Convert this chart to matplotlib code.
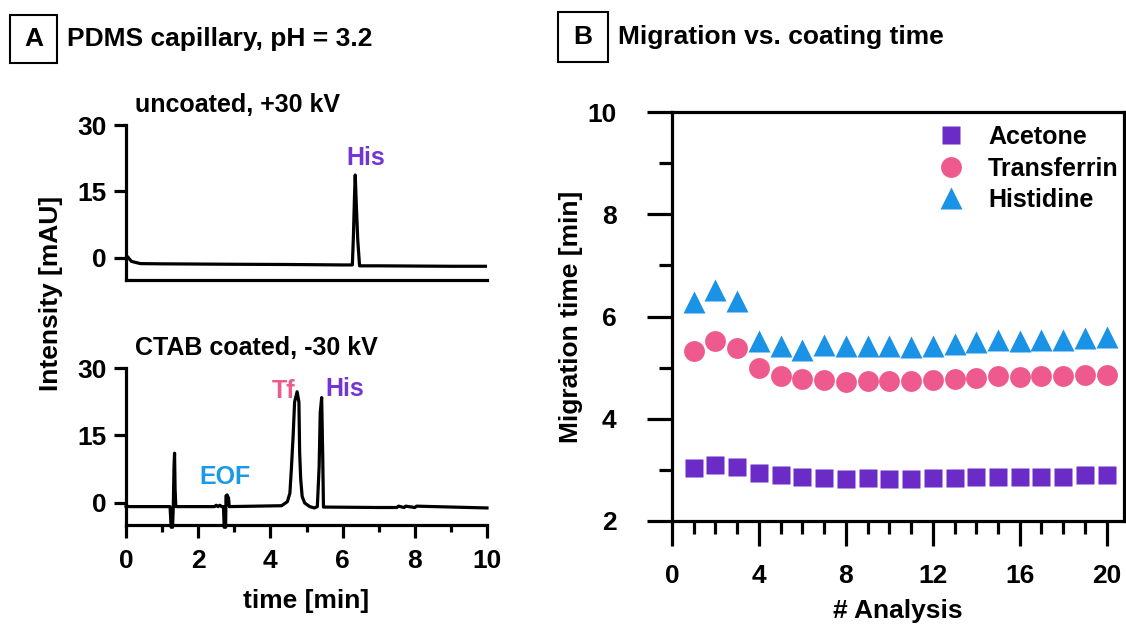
import matplotlib
matplotlib.use("Agg")
from matplotlib import pyplot as plt
from matplotlib.patches import Rectangle
from matplotlib.ticker import MultipleLocator

plt.rcParams['font.family'] = ['Liberation Sans', 'DejaVu Sans']
plt.rcParams['font.weight'] = 'bold'
plt.rcParams['axes.labelweight'] = 'bold'

# ---- panel A: electropherograms (time [min], intensity [mAU]) ----
uncoated_t = [0.0, 0.05, 0.15, 0.4, 1.0, 3.0, 4.5, 6.0, 6.27, 6.30, 6.33, 6.35,
              6.38, 6.42, 6.47, 7.0, 8.0, 9.0, 10.0]
uncoated_i = [0.5, 0.2, -0.8, -1.3, -1.35, -1.45, -1.5, -1.6, -1.6, 5.0, 14.0, 18.7,
              12.0, 4.0, -1.8, -1.8, -1.85, -1.9, -1.9]

ctab_t = [0.0, 0.1, 1.22, 1.25, 1.29, 1.31, 1.33, 1.345, 1.36, 1.38,
          2.45, 2.5, 2.55, 2.6, 2.65, 2.70, 2.72, 2.76, 2.77, 2.80, 2.84, 2.86,
          4.31, 4.47, 4.54, 4.58, 4.63, 4.67, 4.74, 4.79, 4.81, 4.84, 4.88, 4.95, 5.09,
          5.22, 5.30, 5.35, 5.38, 5.42, 5.45, 5.47,
          7.0, 7.5, 7.55, 7.7, 7.75, 8.0, 8.05, 10.0]
ctab_i = [-0.8, -0.9, -0.9, -5.5, -5.5, -0.9, 8.0, 11.0, 3.0, -0.9,
          -0.9, -0.6, -0.9, -0.6, -0.9, -0.9, -5.5, -5.5, 1.5, 1.7, 1.0, -0.9,
          -0.7, 0.2, 2.1, 7.4, 14.9, 22.4, 24.7, 22.4, 11.2, 5.1, 1.35, -0.1, -0.9,
          -1.2, -0.9, 8.0, 20.0, 23.4, 10.0, -1.0,
          -1.1, -1.1, -0.8, -1.1, -0.8, -1.1, -0.8, -1.2]

# ---- panel B: migration times ----
analysis = list(range(1, 21))
acetone = [3.04, 3.10, 3.06, 2.94, 2.89, 2.86, 2.85, 2.82, 2.85, 2.82,
           2.82, 2.85, 2.85, 2.87, 2.87, 2.87, 2.87, 2.87, 2.89, 2.89]
transferrin = [5.33, 5.53, 5.39, 5.00, 4.84, 4.78, 4.75, 4.71, 4.73, 4.73,
               4.73, 4.76, 4.78, 4.80, 4.83, 4.81, 4.83, 4.84, 4.86, 4.86]
histidine = [6.29, 6.51, 6.30, 5.52, 5.42, 5.34, 5.45, 5.42, 5.42, 5.42,
             5.40, 5.43, 5.47, 5.50, 5.55, 5.53, 5.55, 5.55, 5.57, 5.60]

purple = '#6a2bc6'
pink = '#ee5a8d'
blue = '#1a92e6'

W, H = 1126, 626
fs = 19
fig = plt.figure(figsize=(W / 100, H / 100), dpi=100)


def px_axes(left, top, right, bottom):
    return fig.add_axes([left / W, 1 - bottom / H, (right - left) / W, (bottom - top) / H])


lw = 2.3

# top chromatogram
ax1 = px_axes(126, 125, 487, 280)
ax1.plot(uncoated_t, uncoated_i, color='black', lw=lw)
ax1.set_xlim(0, 10)
ax1.set_ylim(-5, 30)
ax1.set_yticks([0, 15, 30])
ax1.set_xticks([])
ax1.text(6.63, 22.5, 'His', color='#7436d0', fontsize=fs - 1, ha='center', va='center')
ax1.text(0.25, 34.5, 'uncoated, +30 kV', fontsize=fs - 1, ha='left', va='center')

# bottom chromatogram
ax2 = px_axes(126, 368, 487, 525)
ax2.plot(ctab_t, ctab_i, color='black', lw=lw, clip_on=False)
ax2.set_xlim(0, 10)
ax2.set_ylim(-5, 30)
ax2.set_yticks([0, 15, 30])
ax2.xaxis.set_major_locator(MultipleLocator(2))
ax2.xaxis.set_minor_locator(MultipleLocator(1))
ax2.set_xlabel('time [min]', fontsize=fs, labelpad=12)
ax2.text(4.36, 24.8, 'Tf', color=pink, fontsize=fs - 1, ha='center', va='center')
ax2.text(6.07, 25.3, 'His', color='#7436d0', fontsize=fs - 1, ha='center', va='center')
ax2.text(2.73, 5.8, 'EOF', color='#1a9ae6', fontsize=fs - 1, ha='center', va='center')
ax2.text(0.25, 34.5, 'CTAB coated, -30 kV', fontsize=fs - 1, ha='left', va='center')

for ax in (ax1, ax2):
    ax.spines['top'].set_visible(False)
    ax.spines['right'].set_visible(False)
    ax.spines['left'].set_linewidth(lw)
    ax.spines['bottom'].set_linewidth(lw)
    ax.tick_params(which='major', length=9, width=lw, labelsize=fs, pad=5)
    ax.tick_params(which='minor', length=5, width=lw)
    ax.tick_params(axis='x', which='major', pad=8)

fig.text(51 / W, 1 - 293 / H, 'Intensity [mAU]', rotation=90, fontsize=fs,
         ha='center', va='center')

# panel B scatter
ax3 = px_axes(672, 112, 1124, 521)
ax3.plot(analysis, acetone, 's', color=purple, ms=13, mec='none', label='Acetone')
ax3.plot(analysis, transferrin, 'o', color=pink, ms=15, mec='none', label='Transferrin')
ax3.plot(analysis, histidine, '^', color=blue, ms=16, mec='none', label='Histidine')
ax3.set_xlim(0, 20.8)
ax3.set_ylim(2, 10)
ax3.xaxis.set_major_locator(MultipleLocator(4))
ax3.xaxis.set_minor_locator(MultipleLocator(1))
ax3.yaxis.set_major_locator(MultipleLocator(2))
ax3.yaxis.set_minor_locator(MultipleLocator(1))
for s in ax3.spines.values():
    s.set_linewidth(lw)
ax3.tick_params(which='major', length=18, width=lw, labelsize=fs)
ax3.tick_params(which='minor', length=9.5, width=lw)
ax3.tick_params(axis='x', pad=13)
ax3.tick_params(axis='y', pad=22)
ax3.set_xlabel('# Analysis', fontsize=fs, labelpad=8)
ax3.set_ylabel('Migration time [min]', fontsize=fs)
ax3.yaxis.set_label_coords((583 - 672) / 452, 0.5)
ax3.legend(loc='upper left', bbox_to_anchor=(928 / W, 1 - 115 / H),
           bbox_transform=fig.transFigure, frameon=False, fontsize=fs - 1,
           handlelength=1.0, handletextpad=1.0, labelspacing=0.3, borderaxespad=0)

# panel headers
for (x0, y0, x1, y1, letter, title) in [(10, 15, 57, 63, 'A', 'PDMS capillary, pH = 3.2'),
                                        (558, 12, 608, 62, 'B', 'Migration vs. coating time')]:
    fig.patches.append(Rectangle((x0 / W, 1 - y1 / H), (x1 - x0) / W, (y1 - y0) / H,
                                 transform=fig.transFigure, fill=False, lw=1.5,
                                 edgecolor='black'))
    fig.text((x0 + x1) / 2 / W, 1 - (y0 + y1) / 2 / H, letter, fontsize=fs,
             ha='center', va='center')
    fig.text((x1 + 10) / W, 1 - (y0 + y1) / 2 / H, title, fontsize=fs,
             ha='left', va='center')

fig.savefig('out.png', dpi=100)
